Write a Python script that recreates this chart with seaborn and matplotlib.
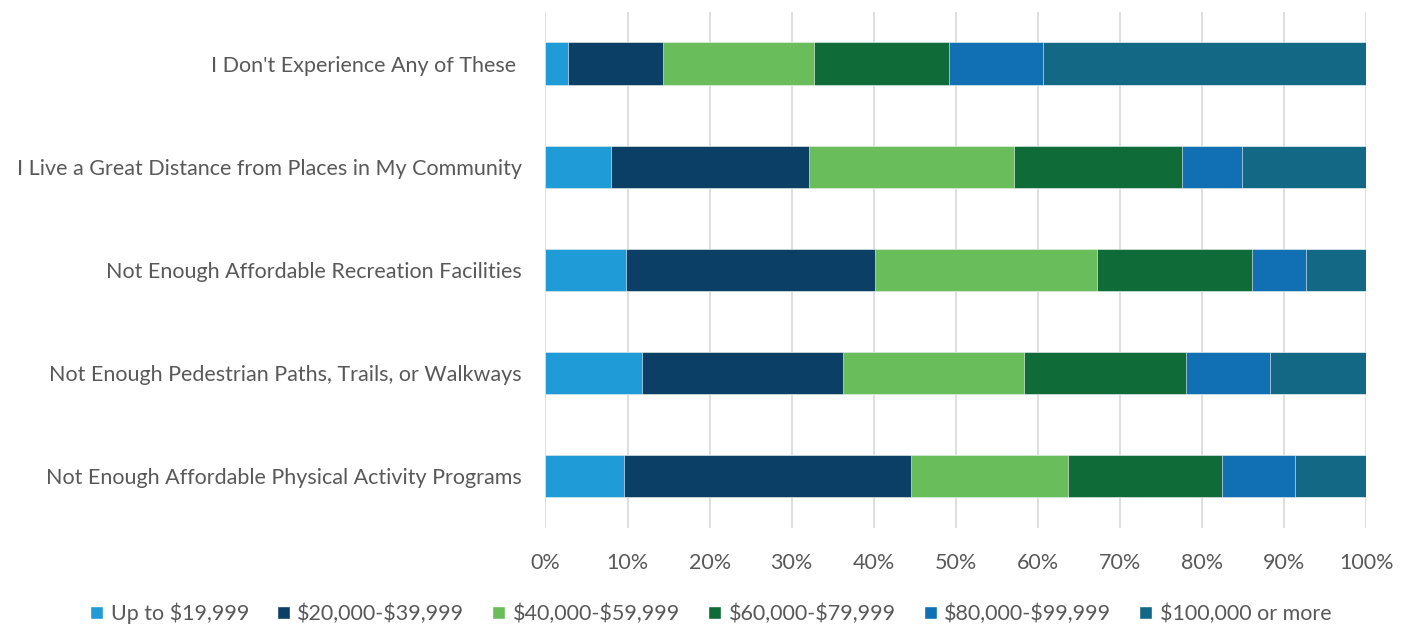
import numpy as np
import pandas as pd
import matplotlib
matplotlib.use("Agg")
import matplotlib.pyplot as plt
import seaborn as sns
from matplotlib.patches import Patch
from matplotlib.ticker import PercentFormatter

# categories (top to bottom)
categories = [
    "I Don't Experience Any of These ",
    "I Live a Great Distance from Places in My Community",
    "Not Enough Affordable Recreation Facilities",
    "Not Enough Pedestrian Paths, Trails, or Walkways",
    "Not Enough Affordable Physical Activity Programs",
]

income_groups = [
    r"Up to \$19,999",
    r"\$20,000-\$39,999",
    r"\$40,000-\$59,999",
    r"\$60,000-\$79,999",
    r"\$80,000-\$99,999",
    r"\$100,000 or more",
]

# share of respondents (%) per income group, per category
up_to_19999 = [2.8, 8.0, 9.8, 11.8, 9.6]
inc_20_39 = [11.5, 24.1, 30.4, 24.4, 34.9]
inc_40_59 = [18.4, 25.0, 27.0, 22.1, 19.1]
inc_60_79 = [16.4, 20.5, 18.9, 19.7, 18.8]
inc_80_99 = [11.5, 7.2, 6.5, 10.3, 8.9]
inc_100_plus = [39.4, 15.2, 7.4, 11.7, 8.7]

colors = ["#1F9BD7", "#0B3F65", "#69BD5A", "#0F6B37", "#1170B4", "#126885"]

sns.set_style("white")
plt.rcParams["font.family"] = ["Lato", "DejaVu Sans"]

series = [up_to_19999, inc_20_39, inc_40_59, inc_60_79, inc_80_99, inc_100_plus]
df = pd.DataFrame(dict(zip(income_groups, series)), index=categories)
cum = df.cumsum(axis=1)

fig, ax = plt.subplots(figsize=(14.13, 6.27), dpi=100)
fig.subplots_adjust(left=0.386, right=0.967, top=0.981, bottom=0.158)

# draw cumulative totals from the largest down so each segment shows
for grp, col in reversed(list(zip(income_groups, colors))):
    plot_df = pd.DataFrame({"cat": categories, "val": cum[grp].values})
    sns.barplot(
        data=plot_df,
        x="val",
        y="cat",
        orient="h",
        color=col,
        saturation=1,
        width=0.41,
        edgecolor="white",
        linewidth=0.4,
        ax=ax,
        zorder=3,
    )

ax.set_xlim(0, 100)
ax.set_ylim(4.5, -0.5)
ax.set_xticks(np.arange(0, 101, 10))
ax.xaxis.set_major_formatter(PercentFormatter(decimals=0))
ax.grid(axis="x", color="#D9D9D9", linewidth=1.2, zorder=0)
ax.set_xlabel("")
ax.set_ylabel("")
for s in ax.spines.values():
    s.set_visible(False)
ax.tick_params(axis="both", length=0, labelsize=15.5, labelcolor="#595959")
ax.tick_params(axis="x", pad=18)
ax.tick_params(axis="y", pad=17)

handles = [Patch(facecolor=c, label=g) for g, c in zip(income_groups, colors)]
fig.legend(
    handles=handles,
    loc="center",
    bbox_to_anchor=(0.503, 0.022),
    ncol=6,
    frameon=False,
    fontsize=15.5,
    handlelength=0.6,
    handleheight=0.6,
    handletextpad=0.35,
    columnspacing=1.3,
    labelcolor="#595959",
)

fig.savefig("out.png", dpi=100)
